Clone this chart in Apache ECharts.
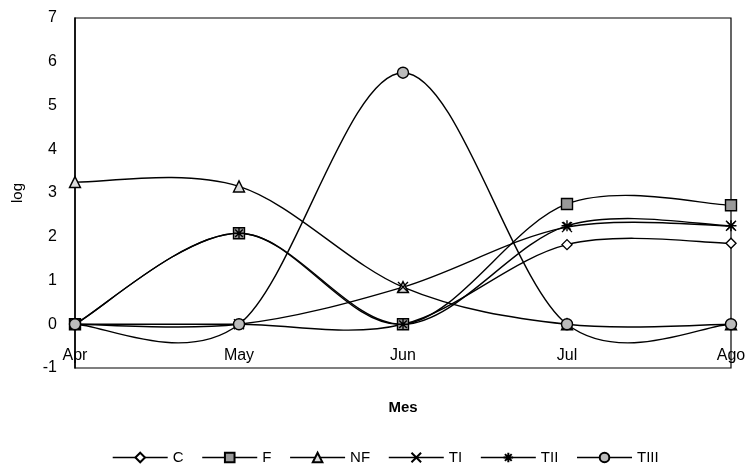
<!DOCTYPE html>
<html><head><meta charset="utf-8">
<script src="https://cdn.jsdelivr.net/npm/echarts@6/dist/echarts.min.js"></script>
<style>html,body{margin:0;padding:0;background:#fff}#c{width:751px;height:465px}</style>
</head><body><div id="c"></div>
<script>
const months = ['Apr', 'May', 'Jun', 'Jul', 'Ago'];
const yTicks = [-1, 0, 1, 2, 3, 4, 5, 6, 7];
const C   = [0, 0, 0, 1.82, 1.85];
const F   = [0, 2.08, 0, 2.75, 2.72];
const NF  = [3.25, 3.15, 0.85, 0, 0];
const TI  = [0, 0, 0.85, 2.22, 2.25];
const TII = [0, 2.08, 0, 2.25, 2.25];
const TIII= [0, 0, 5.75, 0, 0];

const seriesNames = ['C', 'F', 'NF', 'TI', 'TII', 'TIII'];
const seriesData = [C, F, NF, TI, TII, TIII];

const xPath = 'path://M0,0L10,10M10,0L0,10';
const starPath = 'path://M5,0L5,10M0,5L10,5M1.5,1.5L8.5,8.5M8.5,1.5L1.5,8.5';
const symbols = [
  ['diamond', '#fff', 10],
  ['rect', '#999', 11],
  ['triangle', '#ddd', 11],
  [xPath, 'none', 10],
  [starPath, 'none', 11],
  ['circle', '#bbb', 11]
];

// Excel-like smoothed curve (Catmull-Rom bezier) computed in pixel space via the axes
function curveSeries(name, values) {
  return {
    name: name + ' curve', type: 'custom', coordinateSystem: 'cartesian2d',
    data: [[0, values[0]]], z: 1, silent: true,
    renderItem: function (params, api) {
      const pts = values.map((v, i) => api.coord([i, v]));
      const n = pts.length;
      let d = 'M' + pts[0][0] + ' ' + pts[0][1];
      for (let i = 0; i < n - 1; i++) {
        const p0 = pts[Math.max(i - 1, 0)], p1 = pts[i], p2 = pts[i + 1], p3 = pts[Math.min(i + 2, n - 1)];
        const c1x = p1[0] + (p2[0] - p0[0]) / 6, c1y = p1[1] + (p2[1] - p0[1]) / 6;
        const c2x = p2[0] - (p3[0] - p1[0]) / 6, c2y = p2[1] - (p3[1] - p1[1]) / 6;
        d += ' C' + c1x + ' ' + c1y + ' ' + c2x + ' ' + c2y + ' ' + p2[0] + ' ' + p2[1];
      }
      return { type: 'path', shape: { pathData: d }, style: { fill: 'none', stroke: '#000', lineWidth: 1.4 } };
    }
  };
}

function markerSeries(name, data, sym) {
  return {
    name, type: 'line', data, z: 3,
    symbol: sym[0], symbolSize: sym[2], showAllSymbol: true,
    lineStyle: { color: '#000', width: 1.4, opacity: 0 },
    itemStyle: { color: sym[1], borderColor: '#000', borderWidth: 1.4 },
    emphasis: { disabled: true }
  };
}

const series = [];
seriesNames.forEach((n, i) => series.push(curveSeries(n, seriesData[i])));
seriesNames.forEach((n, i) => series.push(markerSeries(n, seriesData[i], symbols[i])));

const gridTop = 18, gridBottom = 97, chartH = 465;
const unitPx = (chartH - gridTop - gridBottom) / (yTicks[yTicks.length - 1] - yTicks[0]);

const chart = echarts.init(document.getElementById('c'));
chart.setOption({
  animation: false,
  textStyle: { fontFamily: 'Liberation Sans, Arial, sans-serif' },
  grid: { left: 75, right: 20, top: gridTop, bottom: gridBottom, show: true, borderColor: '#000', borderWidth: 1.2, outerBoundsMode: 'none', containLabel: false },
  xAxis: {
    type: 'category', data: months, boundaryGap: false,
    offset: -unitPx * (0 - yTicks[0]),
    name: 'Mes', nameLocation: 'middle', nameGap: 76,
    nameTextStyle: { fontSize: 15, fontWeight: 'bold', color: '#000' },
    axisLine: { show: false, onZero: false },
    axisTick: { show: false },
    axisLabel: { fontSize: 16, color: '#000', margin: 23 }
  },
  yAxis: {
    type: 'value', min: yTicks[0], max: yTicks[yTicks.length - 1], interval: 1,
    name: 'log', nameLocation: 'middle', nameGap: 50,
    nameTextStyle: { fontSize: 15, color: '#000' },
    axisLine: { show: true, lineStyle: { color: '#000', width: 1.5 } },
    axisTick: { show: false },
    splitLine: { show: false },
    axisLabel: { fontSize: 16, color: '#000', margin: 18 }
  },
  legend: {
    top: 445, left: 107, itemWidth: 55, itemHeight: 12, itemGap: 18,
    textStyle: { fontSize: 15, color: '#000' },
    lineStyle: { opacity: 1, color: '#000', width: 1.4 },
    data: seriesNames
  },
  series: series
});
</script></body></html>
